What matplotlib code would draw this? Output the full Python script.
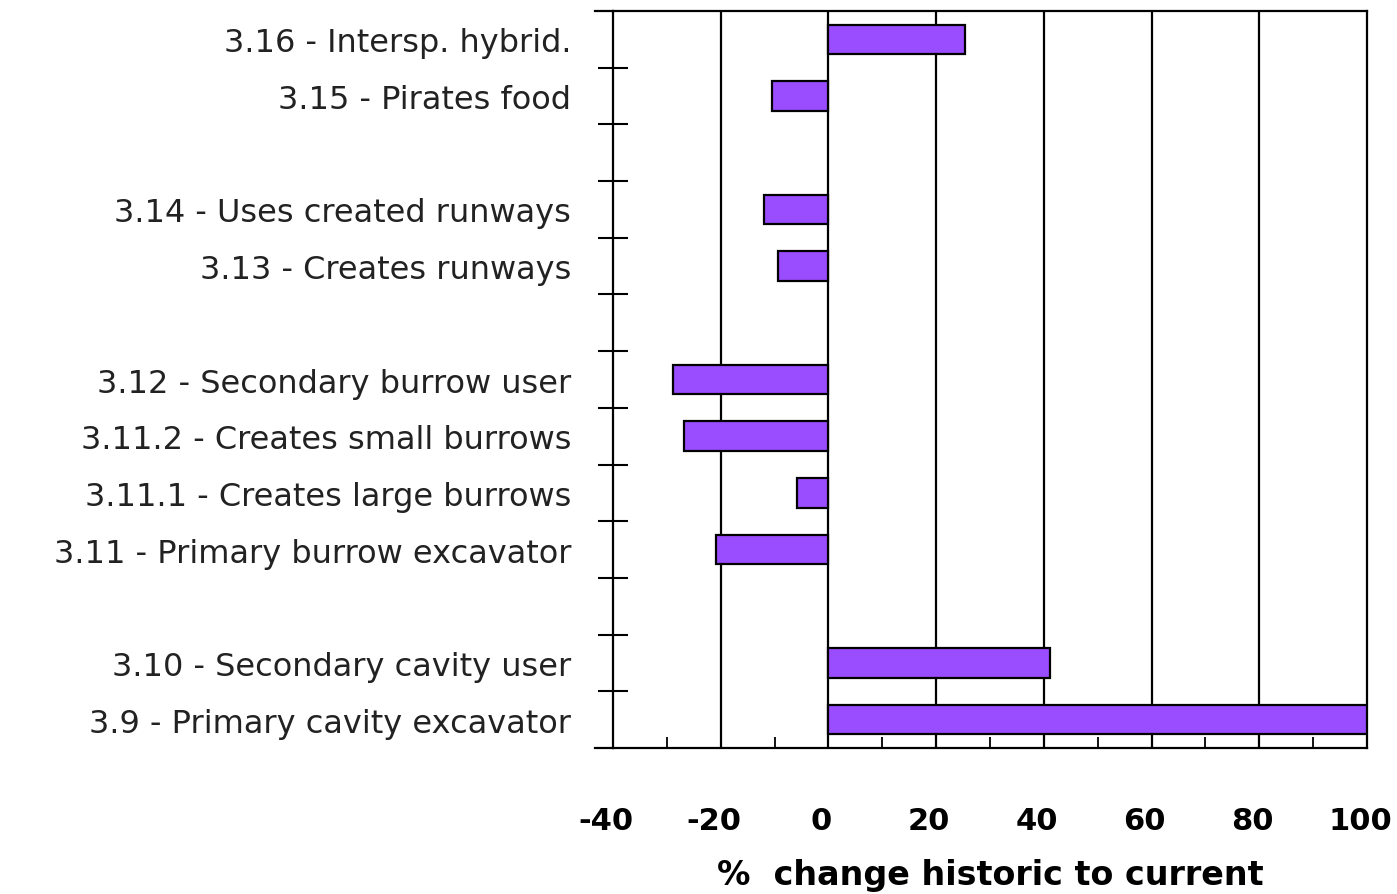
import matplotlib.pyplot as plt
import matplotlib.transforms as mtransforms
import numpy as np

# categories (top to bottom), grouped with a blank row between groups
groups = [
    ['3.16 - Intersp. hybrid.', '3.15 - Pirates food'],
    ['3.14 - Uses created runways', '3.13 - Creates runways'],
    ['3.12 - Secondary burrow user', '3.11.2 - Creates small burrows',
     '3.11.1 - Creates large burrows', '3.11 - Primary burrow excavator'],
    ['3.10 - Secondary cavity user', '3.9 - Primary cavity excavator'],
]
# % change historic to current, same order
values = [
    [25.3, -10.4],
    [-11.9, -9.3],
    [-28.8, -26.9, -5.9, -20.8],
    [41.2, 100],
]
xticks = [-40, -20, 0, 20, 40, 60, 80, 100]

labels, vals, pos = [], [], []
slot = 0
for g, v in zip(groups, values):
    for lab, val in zip(g, v):
        labels.append(lab)
        vals.append(val)
        pos.append(slot)
        slot += 1
    slot += 1
nslots = slot - 1

fig = plt.figure(figsize=(13.97, 8.95), dpi=100)
ax = fig.add_axes([0.4388, 0.1631, 0.5397, 0.8235])

ax.barh(pos, vals, height=0.52, color='#9A4CFF', edgecolor='black', linewidth=1.6, zorder=3)

ax.set_xlim(-40, 100)
ax.set_ylim(nslots - 0.5, -0.5)

# vertical grid lines
for gx in xticks[1:-1]:
    ax.axvline(gx, color='black', lw=1.6, zorder=1)

for s in ax.spines.values():
    s.set_linewidth(1.6)

ax.set_xticks(xticks)
ax.set_xticklabels([str(t) for t in xticks], fontsize=22, fontweight='bold')
ax.set_xticks(np.arange(-30, 100, 20), minor=True)
ax.tick_params(axis='x', which='major', length=0, pad=42)
ax.tick_params(axis='x', which='minor', direction='in', length=8, width=1.3)
# labels sit a bit left of their grid lines in the original
shift = mtransforms.ScaledTranslation(-0.07, 0, fig.dpi_scale_trans)
for t in ax.get_xticklabels():
    t.set_transform(t.get_transform() + shift)

ax.set_yticks(pos)
ax.set_yticklabels(labels, fontsize=23, color='#222222')
ax.set_yticks(np.arange(0.5, nslots - 0.5, 1), minor=True)
ax.tick_params(axis='y', which='major', length=0, pad=30)
ax.tick_params(axis='y', which='minor', direction='inout', length=21, width=1.5)

# spines extended a little to the left
ax.plot([-0.024, 0], [1, 1], transform=ax.transAxes, color='black', lw=1.6, clip_on=False)
ax.plot([-0.024, 0], [0, 0], transform=ax.transAxes, color='black', lw=1.6, clip_on=False)

ax.set_xlabel('%  change historic to current', fontsize=24, fontweight='bold', labelpad=16)

plt.savefig('out.png', dpi=100)
